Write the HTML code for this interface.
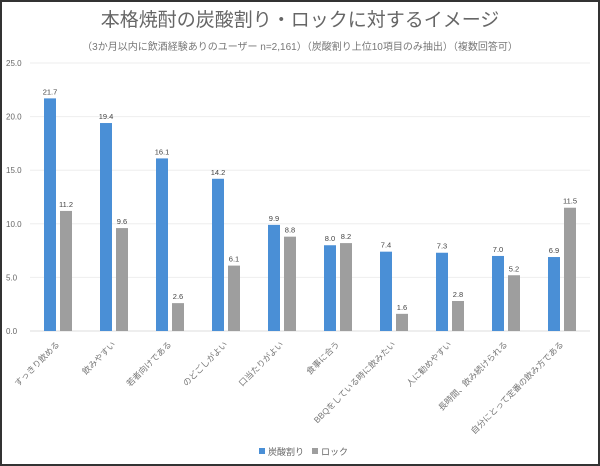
<!DOCTYPE html>
<html><head><meta charset="utf-8"><style>
body{margin:0;background:#fff}
svg{display:block;font-family:"Liberation Sans","Noto Sans CJK JP",sans-serif}
</style></head><body>
<svg id="c" width="600" height="466">
<rect x="1" y="1" width="598" height="464" fill="#fff" stroke="#333" stroke-width="2"/>
<text x="300" y="26" text-anchor="middle" font-size="19" fill="#666">本格焼酎の炭酸割り・ロックに対するイメージ</text>
<text x="300" y="50" text-anchor="middle" font-size="10" fill="#777">（3か月以内に飲酒経験ありのユーザー n=2,161）（炭酸割り上位10項目のみ抽出）（複数回答可）</text>
<g id="g"></g>
<g>
<rect x="259" y="448" width="6" height="6" fill="#4a8fd6"/>
<text x="268" y="455" font-size="9" fill="#666">炭酸割り</text>
<rect x="312" y="448" width="6" height="6" fill="#9e9e9e"/>
<text x="321" y="455" font-size="9" fill="#666">ロック</text>
</g>
</svg>
<script>
const categories=["すっきり飲める","飲みやすい","若者向けである","のどごしがよい","口当たりがよい","食事に合う","BBQをしている時に飲みたい","人に勧めやすい","長時間、飲み続けられる","自分にとって定番の飲み方である"];
const sodaValues=[21.7,19.4,16.1,14.2,9.9,8.0,7.4,7.3,7.0,6.9];
const rockValues=[11.2,9.6,2.6,6.1,8.8,8.2,1.6,2.8,5.2,11.5];
const yTicks=[0,5,10,15,20,25];
const NS="http://www.w3.org/2000/svg";
const g=document.getElementById('g');
const x0=30,x1=590,y0=331,y1=63,ymax=25;
const bw=(x1-x0)/categories.length;
const ys=v=>y0-(v/ymax)*(y0-y1);
const xc=i=>x0+bw*(i+0.5);
function mk(t,a){const e=document.createElementNS(NS,t);for(const k in a)e.setAttribute(k,a[k]);g.appendChild(e);return e;}
yTicks.forEach(t=>{
 const l=mk('line',{x1:x0,x2:x1,y1:ys(t),y2:ys(t),stroke:t===0?'#ddd':'#eee','stroke-width':1});
 
 
 const tx=mk('text',{x:6,y:ys(t)+3,'font-size':8,fill:'#666'});tx.textContent=t.toFixed(1);
 
 
});
categories.forEach((c,i)=>{
 [[sodaValues[i],'#4a8fd6',-14,'bar-soda'],[rockValues[i],'#9e9e9e',2,'bar-rock']].forEach(([v,col,off,nm])=>{
  const r=mk('rect',{x:xc(i)+off,y:ys(v),width:12,height:y0-ys(v),fill:col});
  
  
  const t=mk('text',{x:xc(i)+off+6,y:ys(v)-4,'font-size':7.5,fill:'#444','text-anchor':'middle'});t.textContent=v.toFixed(1);
  
  
 });
 const lx=xc(i)+2,ly=345;
 const t=mk('text',{x:lx,y:ly,'font-size':8.5,fill:'#777','text-anchor':'end',transform:`rotate(-45 ${lx} ${ly})`});t.textContent=c;
 
 
});
</script>
</body></html>
